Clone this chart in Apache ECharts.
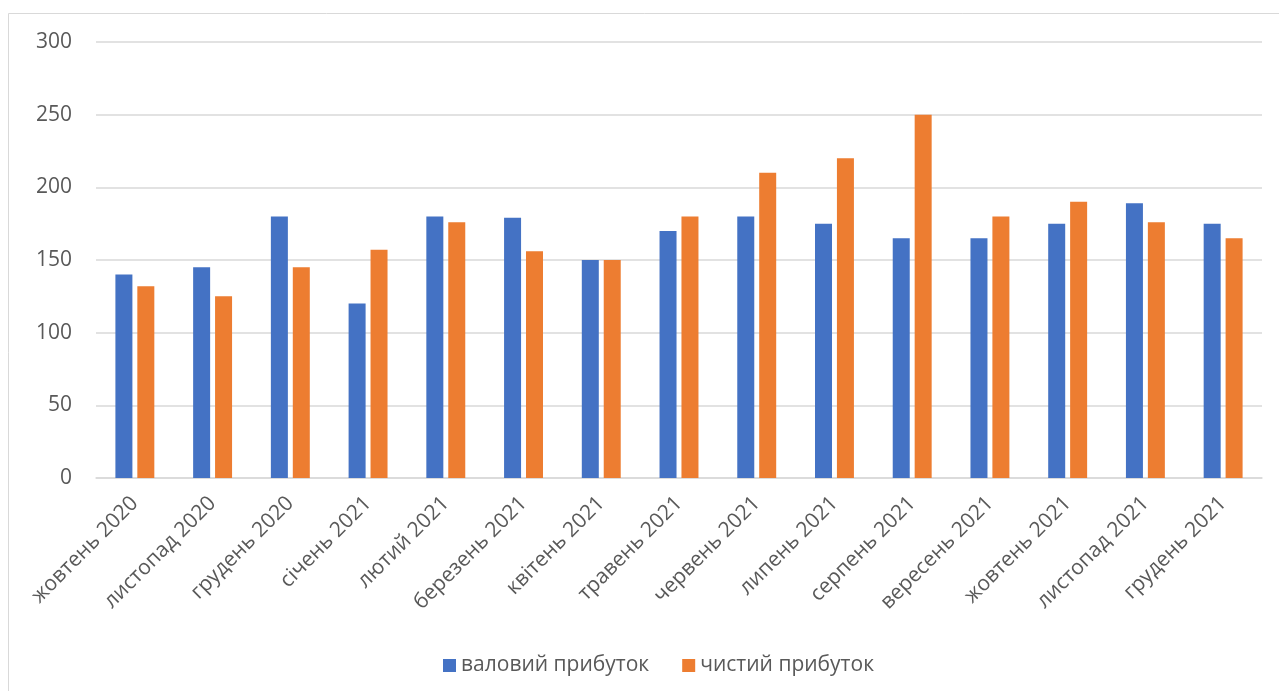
<!DOCTYPE html>
<html>
<head>
<meta charset="utf-8">
<script src="https://cdn.jsdelivr.net/npm/echarts@6/dist/echarts.min.js"></script>
<style>
  html, body { margin: 0; padding: 0; background: #ffffff; }
  #chart { width: 1279px; height: 691px; }
</style>
</head>
<body>
<div id="chart"></div>
<script>
const categories = ['жовтень 2020', 'листопад 2020', 'грудень 2020', 'січень 2021', 'лютий 2021', 'березень 2021', 'квітень 2021', 'травень 2021', 'червень 2021', 'липень 2021', 'серпень 2021', 'вересень 2021', 'жовтень 2021', 'листопад 2021', 'грудень 2021'];
const grossProfit = [140, 145, 180, 120, 180, 179, 150, 170, 180, 175, 165, 165, 175, 189, 175];
const netProfit = [132, 125, 145, 157, 176, 156, 150, 180, 210, 220, 250, 180, 190, 176, 165];
const seriesNames = ['валовий прибуток', 'чистий прибуток'];
const yTicks = { min: 0, max: 300, interval: 50 };

const FONT = '"Open Sans", "Noto Sans", sans-serif';
const TXT = '#595959';

const chart = echarts.init(document.getElementById('chart'), null, { renderer: 'canvas' });
chart.setOption({
  animation: false,
  backgroundColor: '#ffffff',
  graphic: [{
    type: 'rect',
    shape: { x: 8.5, y: 13.5, width: 1290, height: 700 },
    style: { fill: 'none', stroke: '#d9d9d9', lineWidth: 1 },
    silent: true, z: -1
  }],
  grid: { left: 96, right: 17, top: 42, bottom: 213, containLabel: false },
  legend: {
    left: 438, top: 650,
    icon: 'rect', itemWidth: 13, itemHeight: 13, itemGap: 33,
    textStyle: { fontFamily: FONT, fontSize: 21, color: TXT },
    data: seriesNames
  },
  xAxis: {
    type: 'category',
    data: categories,
    axisLine: { show: true, lineStyle: { color: '#d9d9d9', width: 1.5 } },
    axisTick: { show: false },
    axisLabel: { rotate: 45, margin: 22, interval: 0, fontFamily: FONT, fontSize: 21, color: TXT }
  },
  yAxis: {
    type: 'value',
    min: yTicks.min, max: yTicks.max, interval: yTicks.interval,
    axisLine: { show: false },
    axisTick: { show: false },
    splitLine: { lineStyle: { color: '#d9d9d9', width: 1.5 } },
    axisLabel: { margin: 24, fontFamily: FONT, fontSize: 21, color: TXT }
  },
  series: [
    { name: seriesNames[0], type: 'bar', data: grossProfit, barWidth: 17, barGap: '29%', itemStyle: { color: '#4472C4' } },
    { name: seriesNames[1], type: 'bar', data: netProfit, barWidth: 17, itemStyle: { color: '#ED7D31' } }
  ]
});
</script>
</body>
</html>
